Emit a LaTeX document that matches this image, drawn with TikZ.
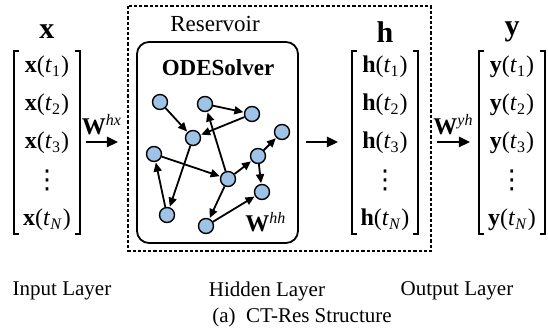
\documentclass[tikz,border=0pt]{standalone}
\usepackage{fontspec}
\setmainfont{Liberation Serif}
\newfontfamily\dotfont{DejaVu Sans}
\usetikzlibrary{arrows.meta}

\definecolor{nodeblue}{HTML}{9DC3E6}
\newcommand{\ent}[2]{\textbf{#1}(\textit{t}\textsubscript{#2})}
\newcommand{\wt}[2]{\textbf{#1}\textsuperscript{\textit{#2}}}

\begin{document}
\begin{tikzpicture}[x = 0.5pt, y = -0.5pt,
    every node/.style = { font = \fontsize{10.5}{12}\selectfont },
    entry/.style = { font = \fontsize{12}{14}\selectfont },
    head/.style = { font = \fontsize{15}{17}\selectfont\bfseries },
    unit/.style = { draw, circle, fill = nodeblue, minimum size = 7.5pt, inner sep = 0pt, line width = 0.7pt },
    link/.style = { -{Triangle[length = 4.5pt, width = 4pt]}, line width = 0.9pt, shorten > = 0.3pt },
    bigarrow/.style = { -{Triangle[length = 5.5pt, width = 5pt]}, line width = 1.2pt },
    brak/.style = { line width = 0.6pt }]
    \useasboundingbox (0,0) rectangle (548,335);

    % input, hidden and output columns
    \foreach \v/\cx/\nm in {x/47/in, h/385/hid, y/512/out} {
      \node [head] (\nm head) at (\cx, 32) {\v};
      \node [entry] (\nm1) at (\cx, 67) {\ent{\v}{1}};
      \node [entry] (\nm2) at (\cx, 105) {\ent{\v}{2}};
      \node [entry] (\nm3) at (\cx, 143) {\ent{\v}{3}};
      \node [entry, inner sep = 0pt, font = \fontsize{13}{14}\selectfont\dotfont] (\nm dots) at (\cx, 180) {⋮};
      \node [entry] (\nm N) at (\cx, 220) {\ent{\v}{\textit{N}}};
      \draw [brak] (\cx-28, 51) -- (\cx-33, 51) -- (\cx-33, 234) -- (\cx-28, 234);
      \draw [brak] (\cx+28, 51) -- (\cx+33, 51) -- (\cx+33, 234) -- (\cx+28, 234);
    }

    % reservoir
    \draw [line width = 0.6pt, dash pattern = on 1.6pt off 1pt] (128, 6) rectangle (431, 251);
    \node (res) [font = \fontsize{11.5}{13}\selectfont] at (215, 24) {Reservoir};
    \node (solver) [draw, rounded corners = 6pt, line width = 0.9pt, minimum width = 80.5pt, minimum height = 100.5pt] at (217.5, 142.5) {};
    \node (ode) [font = \fontsize{11.5}{13}\selectfont\bfseries] at (218, 68) {ODESolver};

    \foreach \i/\px/\py in {1/160/102, 2/205/104, 3/252/114, 4/193/138, 5/282/132, 6/154/154,
                            7/258/156, 8/228/179, 9/262/192, 10/167/215, 11/206/226}
      \node [unit] (n\i) at (\px, \py) {};

    \foreach \a/\b in {1/4, 2/3, 3/4, 4/10, 6/8, 10/6, 8/2, 8/7, 7/5, 7/9, 8/11, 11/9}
      \draw [link] (n\a) -- (n\b);

    \node [entry] (whh) at (266, 222) {\wt{W}{hh}};

    % weights between layers
    \coordinate (hx a) at (86, 142);
    \coordinate (hx b) at (118, 142);
    \coordinate (sh a) at (306, 142);
    \coordinate (sh b) at (338, 142);
    \coordinate (yh a) at (437, 142);
    \coordinate (yh b) at (470, 142);
    \draw [bigarrow] (hx a) -- node [entry, above, inner sep = 3pt] {\wt{W}{hx}} (hx b);
    \draw [bigarrow] (sh a) -- (sh b);
    \draw [bigarrow] (yh a) -- node [entry, above, inner sep = 3pt] {\wt{W}{yh}} (yh b);

    % captions
    \node (inlab) at (62, 291) {Input Layer};
    \node (hidlab) at (267, 291) {Hidden Layer};
    \node (outlab) at (457, 291) {Output Layer};
    \node (cap) at (302, 317) {(a)\ \ CT-Res Structure};
\end{tikzpicture}
\end{document}
